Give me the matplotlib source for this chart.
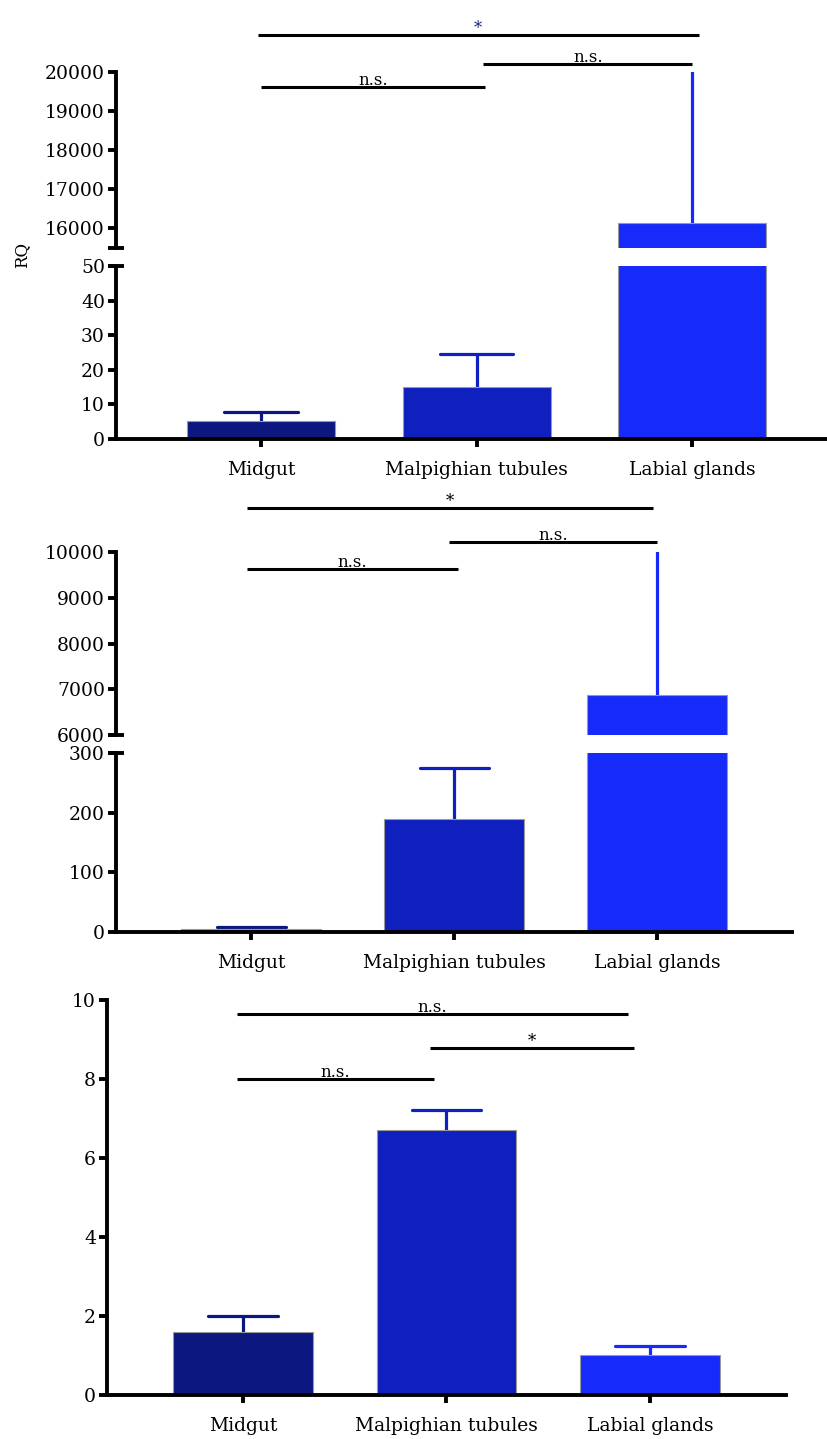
import numpy as np
from matplotlib import pyplot as plt

# datos
tejidos = ['Midgut', 'Malpighian tubules', 'Labial glands']
colores = ['#0c1780', '#0f20bf', '#162afa']

p1_media = [5.3, 15.0, 16150]
p1_err = [2.5, 9.6, 4500]
p2_media = [5.5, 190, 6870]
p2_err = [3, 85, 3500]
p3_media = [1.6, 6.72, 1.0]
p3_err = [0.4, 0.5, 0.25]

# comparaciones: (x1, x2, altura, texto)
p1_sig = [(-0.015, 2.03, 20940, '*'), (0.0, 1.04, 19620, 'n.s.'), (1.03, 2.0, 20200, 'n.s.')]
p2_sig = [(-0.02, 1.98, 10960, '*'), (-0.02, 1.02, 9630, 'n.s.'), (0.975, 2.0, 10220, 'n.s.')]
p3_sig = [(-0.03, 1.89, 9.65, 'n.s.'), (0.92, 1.92, 8.78, '*'), (-0.03, 0.94, 8.0, 'n.s.')]

plt.rcParams['font.family'] = ['DejaVu Serif']
LW = 2.8
ANCHO = 0.687
CAP = 0.17


def estilo(ax, abajo=True):
    for s in ['top', 'right']:
        ax.spines[s].set_visible(False)
    ax.spines['left'].set_linewidth(LW)
    ax.spines['bottom'].set_linewidth(LW)
    ax.tick_params(axis='y', direction='out', length=6, width=LW, labelsize=13.5, pad=2)
    if abajo:
        ax.tick_params(axis='x', direction='out', length=6, width=LW, labelsize=13.5, pad=10)
        ax.set_xticks(range(3))
        ax.set_xticklabels(tejidos)
    else:
        ax.spines['bottom'].set_visible(False)
        ax.set_xticks([])


def barras(ax, media, err):
    x = np.arange(3)
    ax.bar(x, media, width=ANCHO, color=colores, edgecolor='#9a9a9a', linewidth=0.8, zorder=2)
    # solo la barra de error superior, como en el original
    for i in range(3):
        top = media[i] + err[i]
        ax.plot([x[i], x[i]], [media[i], top], color=colores[i], lw=2.3, zorder=1,
                solid_capstyle='butt')
        ax.plot([x[i] - CAP, x[i] + CAP], [top, top], color=colores[i], lw=2.3, zorder=1,
                solid_capstyle='round')


def corte(ax, y):
    ax.plot(0, y, marker='_', markersize=11, markeredgewidth=LW, color='k',
            transform=ax.get_yaxis_transform(), clip_on=False, zorder=5)


def signif(ax, lista, color_primero='k'):
    for k, (x1, x2, y, t) in enumerate(lista):
        ax.plot([x1, x2], [y, y], color='k', lw=2.2, clip_on=False, solid_capstyle='butt')
        c = color_primero if k == 0 else 'k'
        ax.annotate(t, ((x1 + x2) / 2, y), xytext=(0, 1.5), textcoords='offset points',
                    ha='center', va='baseline', fontsize=12, color=c, annotation_clip=False)


fig = plt.figure(figsize=(8.27, 14.39), dpi=100)

# panel 1
a1s = fig.add_axes([0.1403, 0.8277, 0.8585, 0.1223])
a1i = fig.add_axes([0.1403, 0.6949, 0.8585, 0.1202])
barras(a1s, p1_media, p1_err)
barras(a1i, p1_media, p1_err)
a1s.set_ylim(15500, 20000)
a1s.set_yticks([16000, 17000, 18000, 19000, 20000])
a1i.set_ylim(0, 50)
a1i.set_yticks([0, 10, 20, 30, 40, 50])
for a in (a1s, a1i):
    a.set_xlim(-0.673, 2.62)
estilo(a1s, abajo=False)
estilo(a1i)
corte(a1s, 15500)
corte(a1i, 50)
signif(a1s, p1_sig, color_primero='#222c78')
fig.text(22 / 827, 1 - 255 / 1439, 'RQ', rotation=90, ha='center', va='center', fontsize=12)

# panel 2
a2s = fig.add_axes([0.1403, 0.4892, 0.8174, 0.1272])
a2i = fig.add_axes([0.1403, 0.3523, 0.8174, 0.1244])
barras(a2s, p2_media, p2_err)
barras(a2i, p2_media, p2_err)
a2s.set_ylim(6000, 10000)
a2s.set_yticks([6000, 7000, 8000, 9000, 10000])
a2i.set_ylim(0, 300)
a2i.set_yticks([0, 100, 200, 300])
for a in (a2s, a2i):
    a.set_xlim(-0.665, 2.665)
estilo(a2s, abajo=False)
estilo(a2i)
corte(a2s, 6000)
corte(a2i, 300)
signif(a2s, p2_sig)

# panel 3
a3 = fig.add_axes([0.1294, 0.0306, 0.821, 0.2745])
barras(a3, p3_media, p3_err)
a3.set_ylim(0, 10)
a3.set_yticks([0, 2, 4, 6, 8, 10])
a3.set_xlim(-0.668, 2.668)
estilo(a3)
signif(a3, p3_sig)

fig.savefig('out.png', dpi=100)
